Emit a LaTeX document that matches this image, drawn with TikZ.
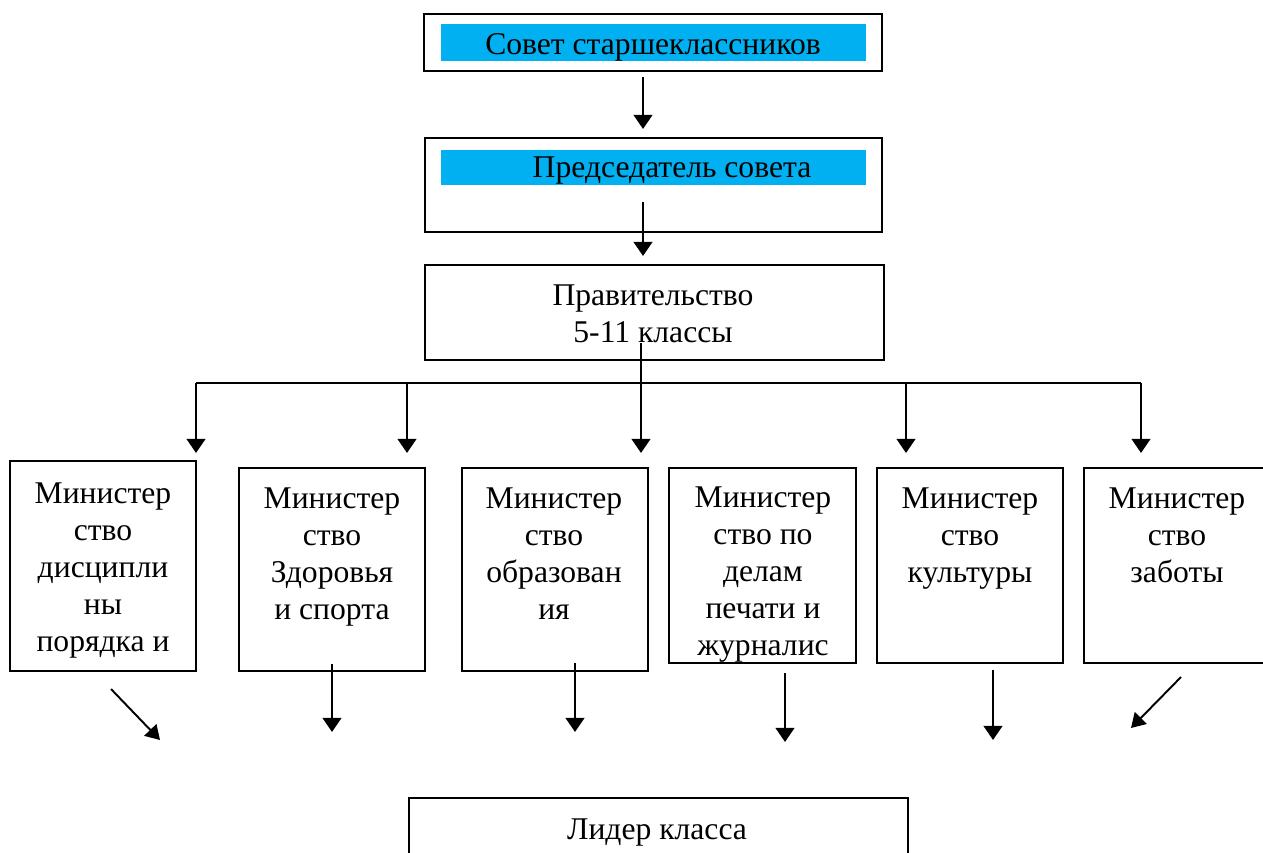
\documentclass[tikz,border=0pt]{standalone}
\usepackage{fontspec}
\setmainfont{Liberation Serif}
\usetikzlibrary{arrows.meta}
\definecolor{skyblue}{HTML}{00B0F0}
\tikzset{
  box/.style={draw, line width=1.1pt, anchor=north west, inner sep=0pt, outer sep=0pt},
  bar/.style={fill=skyblue, anchor=north west, inner sep=0pt, outer sep=0pt},
  txt/.style={anchor=base, align=center, inner sep=0pt},
  arr/.style={line width=1.5pt, -{Triangle[length=8pt, width=10.5pt]}},
  slant/.style={line width=1.1pt, -{Triangle[length=8pt, width=9.5pt]}}
}
\begin{document}
\begin{tikzpicture}[x=0.02cm, y=-0.02cm, font=\fontsize{18}{21}\selectfont]
    \useasboundingbox (0, 0) rectangle (1263, 852);
    \clip (0, 0) rectangle (1263, 852);
    % top
    \node [box, minimum width=9.16cm, minimum height=1.14cm] (sovet) at (424, 14) {};
    \node [bar, minimum width=8.5cm, minimum height=0.74cm] (sovetbar) at (441, 24) {};
    \node [txt] (sovettxt) at (653, 54) {Совет старшеклассников};
    \node [box, minimum width=9.14cm, minimum height=1.88cm] (predsed) at (425, 138) {};
    \node [bar, minimum width=8.5cm, minimum height=0.7cm] (predsedbar) at (441, 150) {};
    \node [txt] (predsedtxt) at (672, 177) {Председатель совета};
    \node [box, minimum width=9.18cm, minimum height=1.9cm] (prav) at (425, 265) {};
    \node [txt] (pravtxt) at (653, 342) {Правительство\\5-11 классы};
    % ministries (text placed by its last line)
    \node [box, minimum width=3.72cm, minimum height=4.2cm] (min1) at (10, 461) {};
    \node [box, minimum width=3.72cm, minimum height=4.06cm] (min2) at (239, 468) {};
    \node [box, minimum width=3.72cm, minimum height=4.06cm] (min3) at (462, 468) {};
    \node [box, minimum width=3.74cm, minimum height=3.9cm] (min4) at (669, 468) {};
    \node [box, minimum width=3.72cm, minimum height=3.9cm] (min5) at (877, 468) {};
    \node [box, minimum width=3.72cm, minimum height=3.9cm] (min6) at (1084, 468) {};
    \node [txt] (min1txt) at (103, 651) {Министер\\ство\\дисципли\\ны\\порядка и};
    \node [txt] (min2txt) at (332, 619) {Министер\\ство\\Здоровья\\и спорта};
    \node [txt] (min3txt) at (554, 619) {Министер\\ство\\образован\\ия};
    \node [txt] (min4txt) at (763, 655) {Министер\\ство по\\делам\\печати и\\журналис};
    \node [txt] (min5txt) at (970, 582) {Министер\\ство\\культуры};
    \node [txt] (min6txt) at (1177, 582) {Министер\\ство\\заботы};
    % bottom
    \node [box, minimum width=9.98cm, minimum height=1.3cm] (lider) at (409, 798) {};
    \node [txt] (lidertxt) at (657, 839) {Лидер класса};
    % arrows down the middle
    \coordinate (s1) at (643, 77);
    \coordinate (e1) at (643, 129);
    \coordinate (s2) at (643, 202);
    \coordinate (e2) at (643, 256);
    \coordinate (trunk) at (641, 343);
    \coordinate (fork) at (641, 383);
    \draw [arr] (s1) -- (e1);
    \draw [arr] (s2) -- (e2);
    \draw [line width=1.1pt] (trunk) -- (fork);
    \foreach \i/\x in {1/196, 2/407, 3/641, 4/906, 5/1141} {
      \coordinate (bus\i) at (\x, 383);
      \coordinate (tip\i) at (\x, 453);
      \draw [arr] (bus\i) -- (tip\i);
    }
    \draw [line width=1.1pt] (bus1) -- (bus5);
    % arrows to the leader
    \coordinate (f1) at (111, 689);
    \coordinate (g1) at (160, 740);
    \draw [slant] (f1) -- (g1);
    \foreach \i/\x/\ya/\yb in {2/332/664/732, 3/575/663/732, 4/785/673/742, 5/993/670/740} {
      \coordinate (f\i) at (\x, \ya);
      \coordinate (g\i) at (\x, \yb);
      \draw [arr] (f\i) -- (g\i);
    }
    \coordinate (f6) at (1181, 677);
    \coordinate (g6) at (1131, 728);
    \draw [slant] (f6) -- (g6);
\end{tikzpicture}
\end{document}
